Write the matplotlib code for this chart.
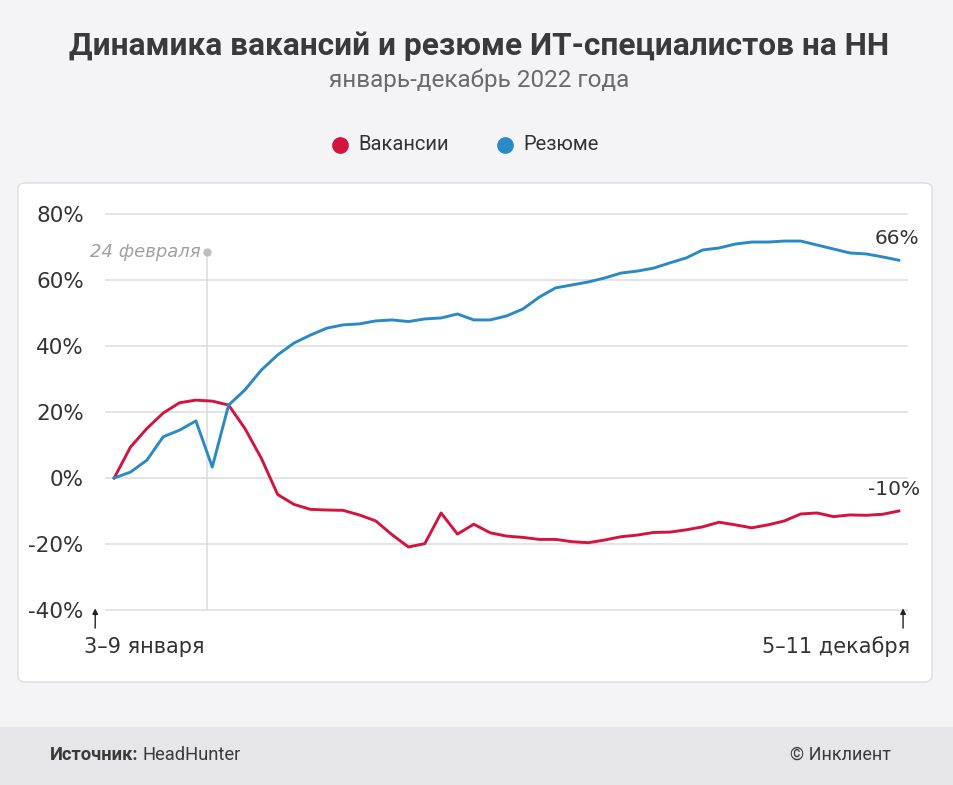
import matplotlib
matplotlib.use("Agg")
import matplotlib.pyplot as plt
from matplotlib.patches import FancyBboxPatch, Rectangle
from matplotlib.lines import Line2D
import numpy as np

W, H = 954, 785

TITLE = "Динамика вакансий и резюме ИТ-специалистов на НН"
SUBTITLE = "январь-декабрь 2022 года"
SERIES_NAMES = ["Вакансии", "Резюме"]
FIRST_WEEK = "3–9 января"
LAST_WEEK = "5–11 декабря"
EVENT_LABEL = "24 февраля"
EVENT_X = 5.68  # position of 24 Feb on the week axis

# % change vs. first week, weekly
VACANCIES = [
    0, 9.4, 15, 19.7, 22.8, 23.6, 23.3, 22.1, 15, 6,
    -5, -8, -9.5, -9.7, -9.8, -11.2, -13, -17.2, -20.9, -19.9,
    -10.6, -17, -14, -16.6, -17.6, -18, -18.6, -18.6, -19.3, -19.6,
    -18.8, -17.8, -17.3, -16.5, -16.4, -15.7, -14.8, -13.4, -14.2, -15.1,
    -14.2, -13, -10.9, -10.6, -11.7, -11.2, -11.3, -11, -10,
]
RESUMES = [
    0, 1.8, 5.4, 12.5, 14.5, 17.3, 3.3, 22.1, 26.7, 32.7,
    37.3, 40.9, 43.3, 45.4, 46.4, 46.7, 47.6, 47.9, 47.4, 48.2,
    48.5, 49.7, 47.9, 47.9, 49.1, 51.2, 54.8, 57.6, 58.5, 59.4,
    60.6, 62.1, 62.7, 63.6, 65.2, 66.7, 69.1, 69.7, 70.9, 71.5,
    71.5, 71.8, 71.8, 70.6, 69.4, 68.2, 67.9, 67, 66,
]
Y_TICKS = [-40, -20, 0, 20, 40, 60, 80]

RED = "#D3143F"
BLUE = "#2A8AC6"
TEXT = "#333333"
GRID = "#E4E4E6"


def fx(x):
    return x / W


def fy(y):
    return 1 - y / H


fig = plt.figure(figsize=(W / 100, H / 100), dpi=100)
fig.patch.set_facecolor("#F4F3F6")

# footer band and white card
fig.patches.append(Rectangle((0, 0), 1, fy(727), transform=fig.transFigure,
                             facecolor="#E6E5EA", edgecolor="none", zorder=-2))
fig.patches.append(FancyBboxPatch((fx(18), fy(682)), fx(932) - fx(18), fy(183) - fy(682),
                                  boxstyle="round,pad=0,rounding_size=0.008",
                                  transform=fig.transFigure, facecolor="white",
                                  edgecolor="#DDDDE0", linewidth=1.0, zorder=-1))

fig.text(0.502, fy(46), TITLE, ha="center", va="center", fontsize=22.8,
         fontweight="bold", family="Roboto", color="#3A3A3A")
fig.text(0.502, fy(80), SUBTITLE, ha="center", va="center", fontsize=17.5,
         family="Roboto", color="#6A6A6A")

# legend
for (lx, name, col) in [(340, SERIES_NAMES[0], RED), (505, SERIES_NAMES[1], BLUE)]:
    fig.add_artist(Line2D([fx(lx)], [fy(145)], marker="o", markersize=11,
                          color=col, linestyle="none", transform=fig.transFigure))
    fig.text(fx(lx + 18), fy(145), name, ha="left", va="center", fontsize=14.5,
             family="Roboto", color=TEXT)

ax = fig.add_axes([fx(106), fy(610), fx(907) - fx(106), fy(214) - fy(610)])
ax.set_facecolor("none")
x = np.arange(len(VACANCIES))
ax.set_xlim(-0.5, len(VACANCIES) - 0.5)
ax.set_ylim(-40, 80)
ax.set_yticks(Y_TICKS)
ax.set_yticklabels([f"{t}%" for t in Y_TICKS])
ax.set_xticks([])
ax.tick_params(axis="y", length=0, pad=16, labelsize=15.5, labelcolor=TEXT)
for s in ax.spines.values():
    s.set_visible(False)
for t in Y_TICKS:
    ax.axhline(t, color=GRID, linewidth=1.4, zorder=1, clip_on=False)

# 24 February marker
ax.plot([EVENT_X, EVENT_X], [-40, 68.5], color="#DEDEE2", linewidth=1.2, zorder=1)
ax.plot(EVENT_X, 68.5, "o", color="#BDBDC2", markersize=5, zorder=2)
ax.text(EVENT_X - 0.4, 68.5, EVENT_LABEL, ha="right", va="center", fontsize=13,
        style="italic", color="#A0A0A6")

ax.plot(x, VACANCIES, color=RED, linewidth=2.1, zorder=3, solid_joinstyle="round")
ax.plot(x, RESUMES, color=BLUE, linewidth=2.1, zorder=3, solid_joinstyle="round")

ax.text(x[-1] - 0.14, RESUMES[-1] + 6.7, f"{RESUMES[-1]:.0f}%", ha="center",
        va="center", fontsize=14.5, color=TEXT)
ax.text(x[-1] - 0.3, VACANCIES[-1] + 6.4, f"{VACANCIES[-1]:.0f}%", ha="center",
        va="center", fontsize=14.5, color=TEXT)

# start / end markers
for ax_x, label, ha, tx in [(-1.16, FIRST_WEEK, "left", -1.85), (48.26, LAST_WEEK, "right", 48.7)]:
    ax.annotate("", xy=(ax_x, -39.5), xytext=(ax_x, -45.5), annotation_clip=False,
                arrowprops=dict(arrowstyle="-|>", color="#222222", linewidth=1.0,
                                mutation_scale=8, shrinkA=0, shrinkB=0))
    ax.text(tx, -51.2, label, ha=ha, va="center", fontsize=15, color=TEXT,
            clip_on=False)

# footer
src = fig.text(fx(50), fy(755), "Источник:", ha="left", va="center", fontsize=13.2,
               fontweight="bold", family="Roboto", color="#3A3A3A")
fig.canvas.draw()
bb = src.get_window_extent()
fig.text(bb.x1 / W + 0.004, fy(755), "HeadHunter", ha="left", va="center",
         fontsize=13.2, family="Roboto", color="#3A3A3A")
fig.text(fx(891), fy(755), "© Инклиент", ha="right", va="center", fontsize=13,
         family="Roboto", color="#3A3A3A")

fig.savefig("out.png", dpi=100, facecolor=fig.get_facecolor())
